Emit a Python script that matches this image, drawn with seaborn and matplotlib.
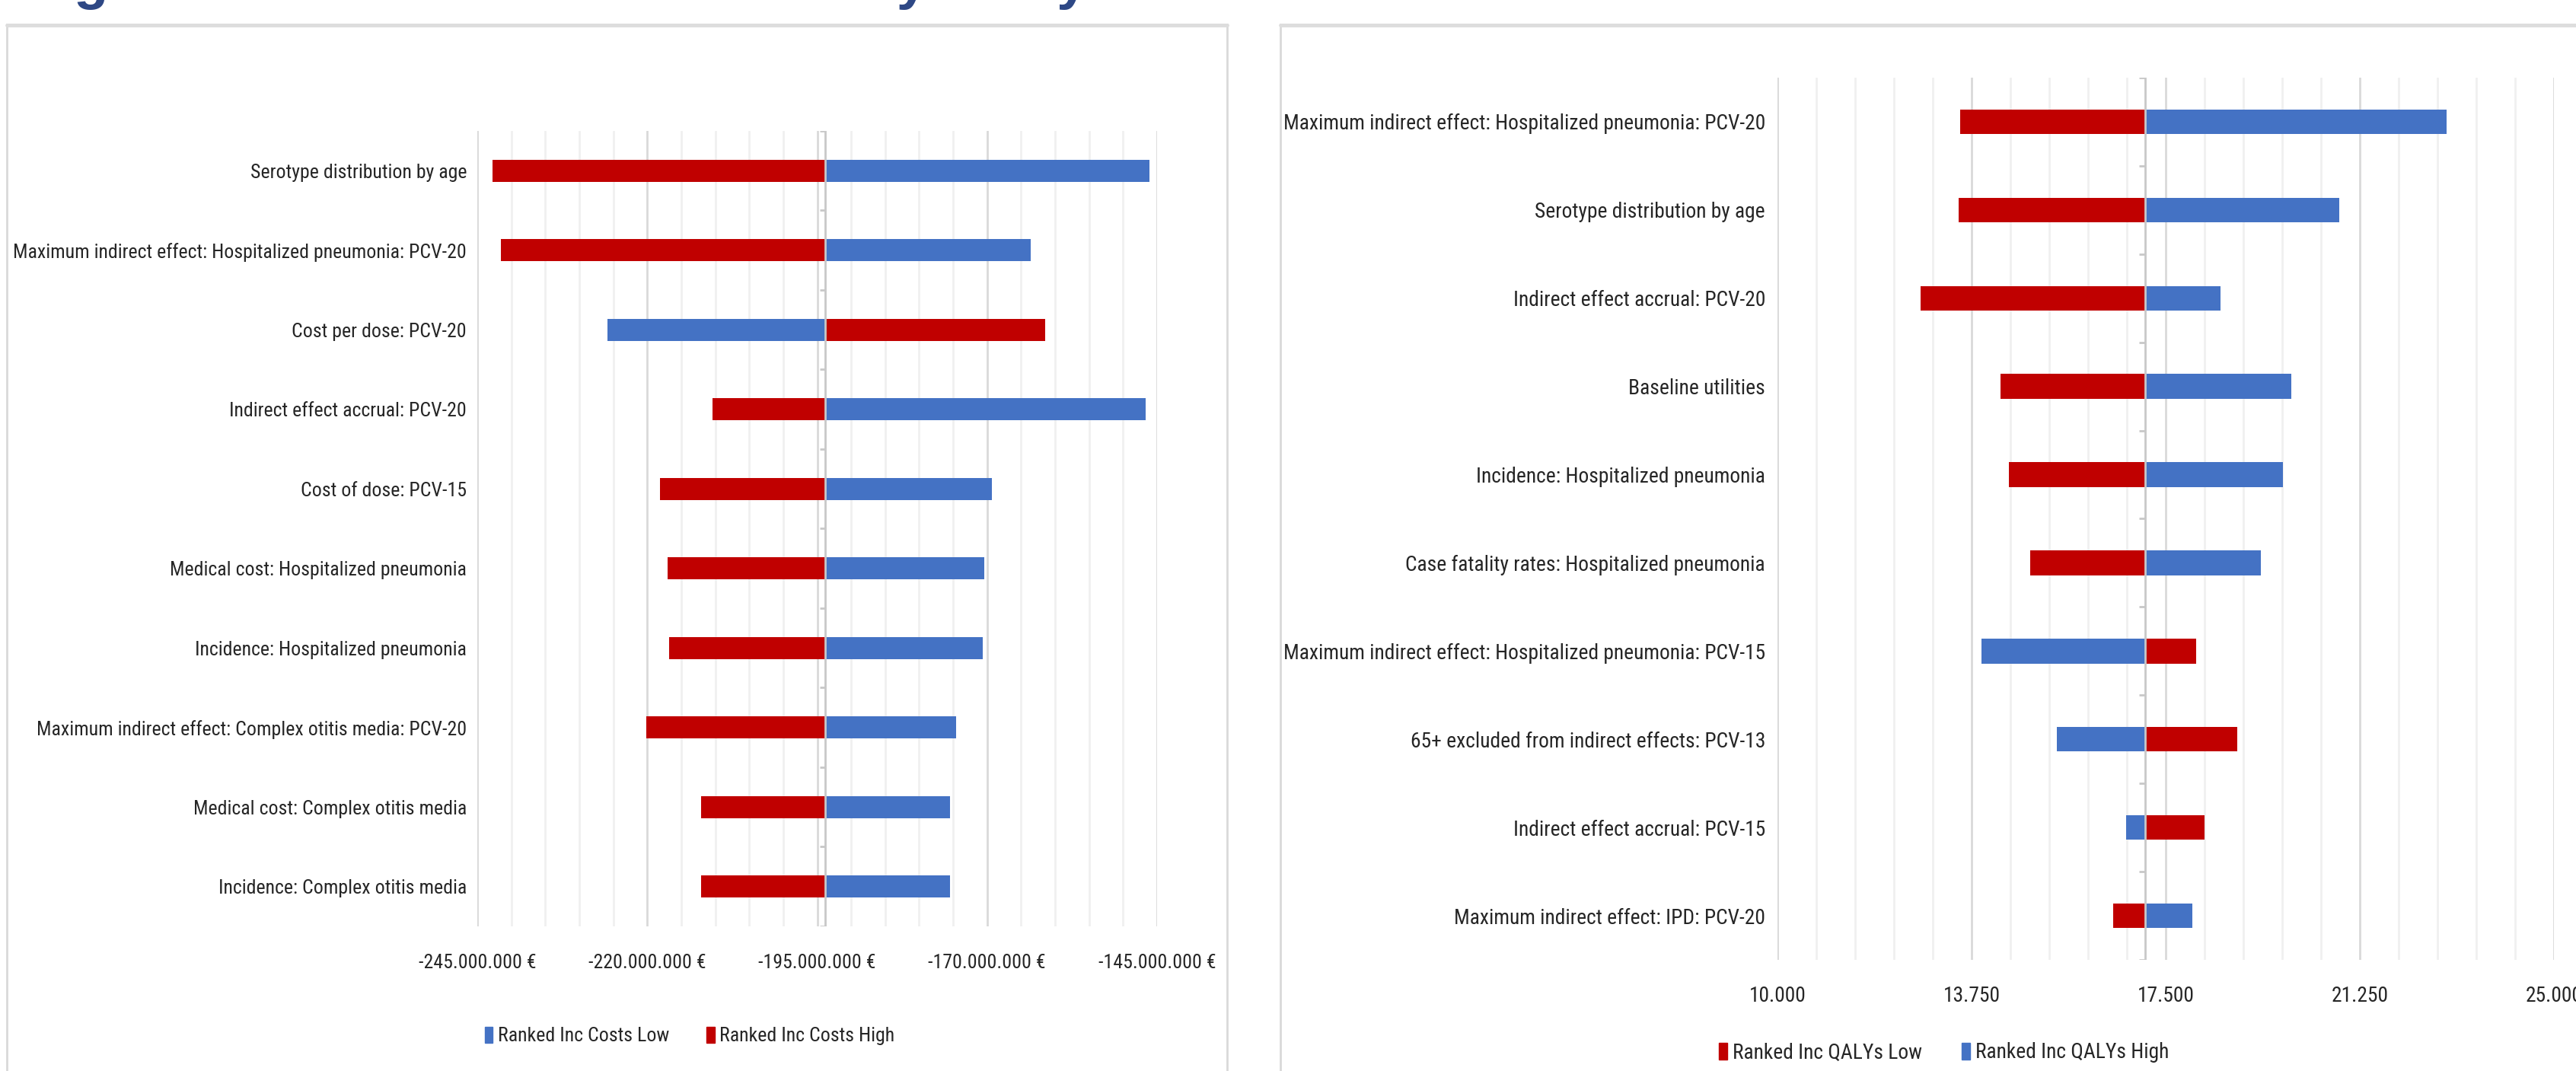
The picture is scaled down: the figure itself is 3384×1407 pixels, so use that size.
import numpy as np
import pandas as pd
import seaborn as sns
import matplotlib.pyplot as plt
from matplotlib import font_manager
from matplotlib.ticker import FuncFormatter
from matplotlib.patches import Rectangle, Patch
from matplotlib.lines import Line2D

W, H = 3384, 1407

# Left tornado: incremental costs (EUR)
cost_params = ['Serotype distribution by age',
               'Maximum indirect effect: Hospitalized pneumonia: PCV-20',
               'Cost per dose: PCV-20',
               'Indirect effect accrual: PCV-20',
               'Cost of dose: PCV-15',
               'Medical cost: Hospitalized pneumonia',
               'Incidence: Hospitalized pneumonia',
               'Maximum indirect effect: Complex otitis media: PCV-20',
               'Medical cost: Complex otitis media',
               'Incidence: Complex otitis media']
cost_low = [-146.1e6, -163.6e6, -225.9e6, -146.7e6, -169.3e6,
            -170.4e6, -170.6e6, -174.6e6, -175.5e6, -175.5e6]
cost_high = [-242.8e6, -241.5e6, -161.5e6, -210.4e6, -218.1e6,
             -217.0e6, -216.8e6, -220.1e6, -212.1e6, -212.1e6]
cost_base = -193.8e6
cost_ticks = [-245e6, -220e6, -195e6, -170e6, -145e6]

# Right tornado: incremental QALYs
qaly_params = ['Maximum indirect effect: Hospitalized pneumonia: PCV-20',
               'Serotype distribution by age',
               'Indirect effect accrual: PCV-20',
               'Baseline utilities',
               'Incidence: Hospitalized pneumonia',
               'Case fatality rates: Hospitalized pneumonia',
               'Maximum indirect effect: Hospitalized pneumonia: PCV-15',
               '65+ excluded from indirect effects: PCV-13',
               'Indirect effect accrual: PCV-15',
               'Maximum indirect effect: IPD: PCV-20']
qaly_low = [13530, 13500, 12760, 14310, 14470, 14880, 18090, 18880, 18250, 16480]
qaly_high = [22920, 20850, 18560, 19920, 19760, 19340, 13940, 15400, 16740, 18010]
qaly_base = 17100
qaly_ticks = [10000, 13750, 17500, 21250, 25000]

RED = '#C00000'
BLUE = '#4472C4'
TXT = '#262626'

sns.set_style('white')

# prefer a narrow face, like the condensed labels of the original slide
names = {f.name for f in font_manager.fontManager.ttflist}
label_font = 'DejaVu Sans'
for cand in ['Liberation Sans Narrow', 'Roboto Condensed', 'Open Sans Condensed',
             'Noto Sans Condensed', 'DejaVu Sans Condensed']:
    if cand in names:
        label_font = cand
        break
else:
    extra = sorted(n for n in names if 'Narrow' in n or 'Condensed' in n)
    if extra:
        label_font = extra[0]
plt.rcParams['font.family'] = [label_font, 'DejaVu Sans']

fig = plt.figure(figsize=(W / 100, H / 100), dpi=100)
fig.patch.set_facecolor('white')

# size the text so the longest label spans as wide as in the reference
probe = fig.text(0, 0, 'Maximum indirect effect: Hospitalized pneumonia: PCV-20', fontsize=20)
probe_w = probe.get_window_extent(renderer=fig.canvas.get_renderer()).width
probe.remove()
fs_left = 20 * 596 / probe_w
fs_right = 20 * 632 / probe_w


def dotted(v):
    return f"{int(round(v)):,}".replace(',', '.')


def tornado(ax, params, low, high, base, labels, colors, ticks, minor_step, fmt, fs, ypad, xpad):
    n = len(params)
    df = pd.DataFrame({
        'param': params * 2,
        'series': [labels[0]] * n + [labels[1]] * n,
        'delta': np.r_[low, high] - base,
    })
    sns.barplot(data=df, x='delta', y='param', hue='series', hue_order=labels,
                palette=colors, dodge=False, width=0.28, orient='h',
                errorbar=None, legend=False, saturation=1, linewidth=0, ax=ax)
    ticks = np.array(ticks, dtype=float)
    ax.set_xlim(ticks[0] - base, ticks[-1] - base)
    ax.set_xticks(ticks - base)
    ax.set_xticks(np.arange(ticks[0], ticks[-1] + minor_step / 2, minor_step) - base, minor=True)
    ax.xaxis.set_major_formatter(FuncFormatter(lambda v, p: fmt(v + base)))
    ax.set_axisbelow(True)
    ax.grid(which='major', axis='x', color='#D9D9D9', lw=2)
    ax.grid(which='minor', axis='x', color='#F0F0F0', lw=2)
    ax.grid(axis='y', visible=False)
    for s in ax.spines.values():
        s.set_visible(False)
    ax.tick_params(axis='x', which='both', length=0, pad=xpad, labelsize=fs, labelcolor=TXT)
    ax.tick_params(axis='y', length=0, pad=ypad, labelsize=fs, labelcolor=TXT)
    ax.set_xlabel('')
    ax.set_ylabel('')
    # category axis at the base case value
    stub = 0.008 * (ticks[-1] - ticks[0])
    ax.axvline(0, color='#C8C8C8', lw=2, zorder=3)
    ax.hlines(np.arange(n + 1) - 0.5, -stub, 0, color='#C8C8C8', lw=2, zorder=3)
    ax.set_ylim(n - 0.5, -0.5)


# panel frames
fig.add_artist(Rectangle((9 / W, -0.02), (1612 - 9) / W, (H - 32) / H + 0.02,
                         transform=fig.transFigure, fill=False, ec='#D9D9D9', lw=2))
fig.add_artist(Rectangle((1682 / W, -0.02), 0.6, (H - 32) / H + 0.02,
                         transform=fig.transFigure, fill=False, ec='#D9D9D9', lw=2))
fig.add_artist(Line2D([9 / W, 1612 / W], [1 - 33 / H] * 2, transform=fig.transFigure,
                      color='#DDDDDD', lw=3.5))
fig.add_artist(Line2D([1682 / W, 1.0], [1 - 33 / H] * 2, transform=fig.transFigure,
                      color='#DDDDDD', lw=3.5))

ax1 = fig.add_axes([627 / W, 1 - 1217 / H, 893 / W, 1045 / H])
tornado(ax1, cost_params, cost_low, cost_high, cost_base,
        ['Ranked Inc Costs Low', 'Ranked Inc Costs High'], [BLUE, RED],
        cost_ticks, 5e6, lambda v: dotted(v) + ' €', fs_left, ypad=10, xpad=26)

ax2 = fig.add_axes([2335 / W, 1 - 1261 / H, 1020 / W, 1159 / H])
tornado(ax2, qaly_params, qaly_low, qaly_high, qaly_base,
        ['Ranked Inc QALYs Low', 'Ranked Inc QALYs High'], [RED, BLUE],
        qaly_ticks, 750, dotted, fs_right, ypad=11.5, xpad=24.5)

leg_kw = dict(loc='center', ncol=2, frameon=False, handlelength=0.4,
              handleheight=0.9, handletextpad=0.25, columnspacing=1.9, labelcolor=TXT)
fig.legend(handles=[Patch(color=BLUE, label='Ranked Inc Costs Low'),
                    Patch(color=RED, label='Ranked Inc Costs High')],
           bbox_to_anchor=(906 / W, 1 - 1361 / H), fontsize=fs_left, **leg_kw)
fig.legend(handles=[Patch(color=RED, label='Ranked Inc QALYs Low'),
                    Patch(color=BLUE, label='Ranked Inc QALYs High')],
           bbox_to_anchor=(2554 / W, 1 - 1383 / H), fontsize=fs_right, **leg_kw)

# slide title, cut off at the top edge as in the source
fig.text(31 / W, 1 + 2 / H, 'Figure 3: Deterministic sensitivity analysis',
         family='Liberation Sans', weight='bold', fontsize=53.5, color='#2E4885',
         ha='left', va='baseline')

fig.savefig('out.png', dpi=100)
